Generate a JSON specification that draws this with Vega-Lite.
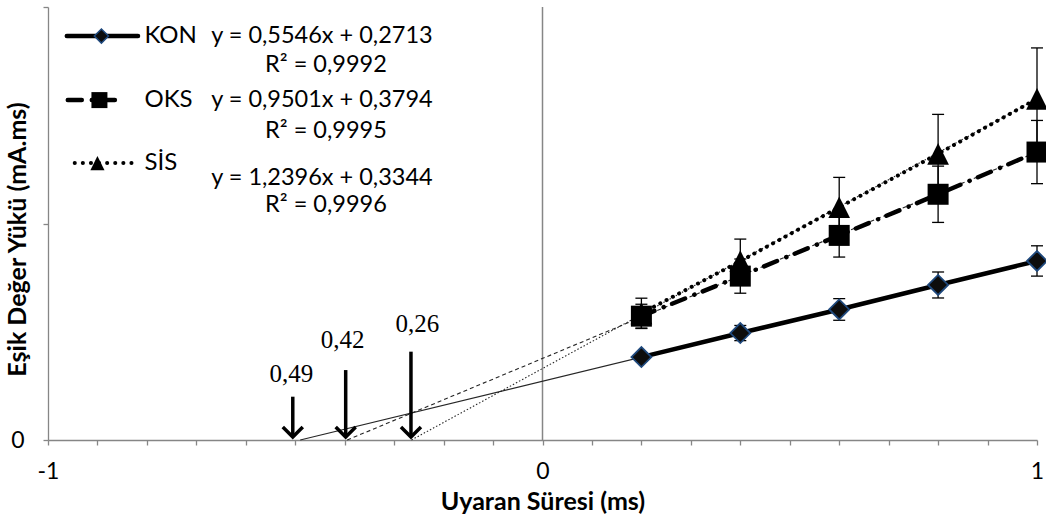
{
  "$schema": "https://vega.github.io/schema/vega-lite/v6.json",
  "width": 989,
  "height": 433,
  "autosize": "none",
  "padding": {"left": 48, "top": 7, "right": 9, "bottom": 79},
  "background": "white",
  "config": {"view": {"stroke": null}, "font": "Lato"},
  "datasets": {
    "pts": [
      {"series": "KON", "x": 0.2, "y": 0.383, "lo": 0.363, "hi": 0.403},
      {"series": "KON", "x": 0.4, "y": 0.494, "lo": 0.459, "hi": 0.529},
      {"series": "KON", "x": 0.6, "y": 0.603, "lo": 0.553, "hi": 0.653},
      {"series": "KON", "x": 0.8, "y": 0.716, "lo": 0.656, "hi": 0.776},
      {"series": "KON", "x": 1.0, "y": 0.827, "lo": 0.757, "hi": 0.897},
      {"series": "OKS", "x": 0.2, "y": 0.572, "lo": 0.517, "hi": 0.627},
      {"series": "OKS", "x": 0.4, "y": 0.757, "lo": 0.678, "hi": 0.836},
      {"series": "OKS", "x": 0.6, "y": 0.945, "lo": 0.845, "hi": 1.045},
      {"series": "OKS", "x": 0.8, "y": 1.135, "lo": 1.005, "hi": 1.265},
      {"series": "OKS", "x": 1.0, "y": 1.33, "lo": 1.184, "hi": 1.476},
      {"series": "SİS", "x": 0.2, "y": 0.585, "lo": 0.515, "hi": 0.655},
      {"series": "SİS", "x": 0.4, "y": 0.826, "lo": 0.724, "hi": 0.928},
      {"series": "SİS", "x": 0.6, "y": 1.075, "lo": 0.937, "hi": 1.213},
      {"series": "SİS", "x": 0.8, "y": 1.322, "lo": 1.14, "hi": 1.504},
      {"series": "SİS", "x": 1.0, "y": 1.576, "lo": 1.341, "hi": 1.811}
    ],
    "trend": [
      {"series": "KON", "x": -0.49, "y": 0},
      {"series": "KON", "x": 1.0, "y": 0.826},
      {"series": "OKS", "x": -0.395, "y": 0},
      {"series": "OKS", "x": 1.0, "y": 1.33},
      {"series": "SİS", "x": -0.265, "y": 0},
      {"series": "SİS", "x": 1.0, "y": 1.576}
    ],
    "arrows": [
      {"label": "0,49", "x": -0.505, "y": 0.2, "y2": 0.014, "lx": -0.508, "ly": 0.305},
      {"label": "0,42", "x": -0.398, "y": 0.323, "y2": 0.014, "lx": -0.404, "ly": 0.462},
      {"label": "0,26", "x": -0.266, "y": 0.408, "y2": 0.014, "lx": -0.253, "ly": 0.536}
    ],
    "legend": [
      {"series": "KON", "x": -0.962, "x2": -0.818, "xm": -0.892, "xt": -0.805, "y": 1.866},
      {"series": "OKS", "x": -0.96, "x2": -0.855, "xm": -0.896, "xt": -0.805, "y": 1.57},
      {"series": "SİS", "x": -0.946, "x2": -0.829, "xm": -0.9, "xt": -0.805, "y": 1.279}
    ],
    "eqs": [
      {"t": "y = 0,5546x + 0,2713", "x": -0.446, "y": 1.866},
      {"t": "R² = 0,9992", "x": -0.438, "y": 1.732},
      {"t": "y = 0,9501x + 0,3794", "x": -0.446, "y": 1.57},
      {"t": "R² = 0,9995", "x": -0.438, "y": 1.427},
      {"t": "y = 1,2396x + 0,3344", "x": -0.446, "y": 1.21},
      {"t": "R² = 0,9996", "x": -0.438, "y": 1.085}
    ]
  },
  "layer": [
    {
      "data": {"values": [{"x": 0}]},
      "mark": {"type": "rule", "color": "#868686", "strokeWidth": 1.5},
      "encoding": {
        "x": {"field": "x", "type": "quantitative",
          "scale": {"domain": [-1, 1], "nice": false, "zero": false},
          "axis": {
            "values": [-1, -0.9, -0.8, -0.7, -0.6, -0.5, -0.4, -0.3, -0.2, -0.1, 0, 0.1, 0.2, 0.3, 0.4, 0.5, 0.6, 0.7, 0.8, 0.9, 1],
            "labelExpr": "datum.value == -1 ? '-1' : datum.value == 0 ? '0' : datum.value == 1 ? '1' : ''",
            "title": "Uyaran Süresi (ms)", "grid": false,
            "domainColor": "#868686", "domainWidth": 1.3, "tickColor": "#868686", "tickWidth": 1.3, "tickSize": 5,
            "labelFont": "Lato", "labelFontSize": 23, "labelColor": "#000", "labelPadding": 33, "labelBaseline": "alphabetic",
            "labelFlush": false, "labelOverlap": false, "labelBound": false,
            "titleFont": "Lato", "titleFontWeight": "bold", "titleFontSize": 25, "titleColor": "#000", "titleY": 69, "titleBaseline": "alphabetic"
          }}
      }
    },
    {
      "data": {"name": "trend"},
      "transform": [{"filter": "datum.series == 'KON'"}],
      "mark": {"type": "line", "strokeWidth": 1.1, "color": "#262626"},
      "encoding": {
        "x": {"field": "x", "type": "quantitative"},
        "y": {"field": "y", "type": "quantitative",
          "scale": {"domain": [0, 2], "nice": false, "zero": false},
          "axis": {
            "values": [0, 1, 2],
            "labelExpr": "datum.value == 0 ? '0' : ''",
            "title": "Eşik Değer Yükü (mA.ms)", "grid": false,
            "domainColor": "#868686", "domainWidth": 1.3, "tickColor": "#868686", "tickWidth": 1.3, "tickSize": 5,
            "labelFont": "Lato", "labelFontSize": 23, "labelColor": "#000", "labelPadding": 19,
            "titleFont": "Lato", "titleFontWeight": "bold", "titleFontSize": 25, "titleColor": "#000",
            "titleX": -31, "titleY": 232, "titleBaseline": "middle", "titleAlign": "center"
          }}
      }
    },
    {
      "data": {"name": "trend"},
      "transform": [{"filter": "datum.series == 'OKS'"}],
      "mark": {"type": "line", "strokeWidth": 1.1, "color": "#262626", "strokeDash": [4, 3]},
      "encoding": {
        "x": {"field": "x", "type": "quantitative"},
        "y": {"field": "y", "type": "quantitative"}
      }
    },
    {
      "data": {"name": "trend"},
      "transform": [{"filter": "datum.series == 'SİS'"}],
      "mark": {"type": "line", "strokeWidth": 1.1, "color": "#262626", "strokeDash": [1.5, 2]},
      "encoding": {
        "x": {"field": "x", "type": "quantitative"},
        "y": {"field": "y", "type": "quantitative"}
      }
    },
    {
      "data": {"name": "pts"},
      "mark": {"type": "rule", "color": "#000", "strokeWidth": 1.3},
      "encoding": {
        "x": {"field": "x", "type": "quantitative"},
        "y": {"field": "lo", "type": "quantitative"},
        "y2": {"field": "hi"}
      }
    },
    {
      "data": {"name": "pts"},
      "mark": {"type": "point", "shape": "stroke", "size": 144, "filled": false, "stroke": "#000", "strokeWidth": 1.3, "opacity": 1},
      "encoding": {
        "x": {"field": "x", "type": "quantitative"},
        "y": {"field": "lo", "type": "quantitative"}
      }
    },
    {
      "data": {"name": "pts"},
      "mark": {"type": "point", "shape": "stroke", "size": 144, "filled": false, "stroke": "#000", "strokeWidth": 1.3, "opacity": 1},
      "encoding": {
        "x": {"field": "x", "type": "quantitative"},
        "y": {"field": "hi", "type": "quantitative"}
      }
    },
    {
      "data": {"name": "pts"},
      "transform": [{"filter": "datum.series == 'KON'"}],
      "mark": {"type": "line", "color": "#000", "strokeWidth": 4.5, "strokeCap": "round"},
      "encoding": {
        "x": {"field": "x", "type": "quantitative"},
        "y": {"field": "y", "type": "quantitative"}
      }
    },
    {
      "data": {"name": "pts"},
      "transform": [{"filter": "datum.series == 'OKS'"}],
      "mark": {"type": "line", "color": "#000", "strokeWidth": 4.5, "strokeCap": "round", "strokeDash": [14, 10, 0.1, 9]},
      "encoding": {
        "x": {"field": "x", "type": "quantitative"},
        "y": {"field": "y", "type": "quantitative"}
      }
    },
    {
      "data": {"name": "pts"},
      "transform": [{"filter": "datum.series == 'SİS'"}],
      "mark": {"type": "line", "color": "#000", "strokeWidth": 4, "strokeCap": "round", "strokeDash": [0.1, 7]},
      "encoding": {
        "x": {"field": "x", "type": "quantitative"},
        "y": {"field": "y", "type": "quantitative"}
      }
    },
    {
      "data": {"name": "pts"},
      "transform": [{"filter": "datum.series == 'KON'"}],
      "mark": {"type": "point", "shape": "diamond", "size": 400, "filled": true, "fill": "#0d0d0d", "stroke": "#1f497d", "strokeWidth": 1.8, "opacity": 1},
      "encoding": {
        "x": {"field": "x", "type": "quantitative"},
        "y": {"field": "y", "type": "quantitative"}
      }
    },
    {
      "data": {"name": "pts"},
      "transform": [{"filter": "datum.series == 'OKS'"}],
      "mark": {"type": "point", "shape": "square", "size": 441, "filled": true, "fill": "#000", "opacity": 1},
      "encoding": {
        "x": {"field": "x", "type": "quantitative"},
        "y": {"field": "y", "type": "quantitative"}
      }
    },
    {
      "data": {"name": "pts"},
      "transform": [{"filter": "datum.series == 'SİS'"}],
      "mark": {"type": "point", "shape": "M0,-1L-1,1L1,1Z", "size": 470, "filled": true, "fill": "#000", "opacity": 1},
      "encoding": {
        "x": {"field": "x", "type": "quantitative"},
        "y": {"field": "y", "type": "quantitative"}
      }
    },
    {
      "data": {"name": "arrows"},
      "mark": {"type": "rule", "color": "#000", "strokeWidth": 3.5},
      "encoding": {
        "x": {"field": "x", "type": "quantitative"},
        "y": {"field": "y", "type": "quantitative"},
        "y2": {"field": "y2"}
      }
    },
    {
      "data": {"name": "arrows"},
      "mark": {"type": "point", "shape": "M-1,-1L0,0L1,-1", "size": 400, "filled": false, "stroke": "#000", "strokeWidth": 3.5, "opacity": 1},
      "encoding": {
        "x": {"field": "x", "type": "quantitative"},
        "y": {"field": "y2", "type": "quantitative"}
      }
    },
    {
      "data": {"name": "arrows"},
      "mark": {"type": "text", "font": "Liberation Serif", "fontSize": 25, "color": "#000", "align": "center", "baseline": "middle"},
      "encoding": {
        "x": {"field": "lx", "type": "quantitative"},
        "y": {"field": "ly", "type": "quantitative"},
        "text": {"field": "label"}
      }
    },
    {
      "data": {"name": "legend"},
      "transform": [{"filter": "datum.series == 'KON'"}],
      "mark": {"type": "rule", "color": "#000", "strokeWidth": 4.5, "strokeCap": "round"},
      "encoding": {
        "x": {"field": "x", "type": "quantitative"},
        "x2": {"field": "x2"},
        "y": {"field": "y", "type": "quantitative"}
      }
    },
    {
      "data": {"name": "legend"},
      "transform": [{"filter": "datum.series == 'OKS'"}],
      "mark": {"type": "rule", "color": "#000", "strokeWidth": 4.5, "strokeCap": "round", "strokeDash": [14, 10, 0.1, 9]},
      "encoding": {
        "x": {"field": "x", "type": "quantitative"},
        "x2": {"field": "x2"},
        "y": {"field": "y", "type": "quantitative"}
      }
    },
    {
      "data": {"name": "legend"},
      "transform": [{"filter": "datum.series == 'SİS'"}],
      "mark": {"type": "rule", "color": "#000", "strokeWidth": 4, "strokeCap": "round", "strokeDash": [0.1, 8]},
      "encoding": {
        "x": {"field": "x", "type": "quantitative"},
        "x2": {"field": "x2"},
        "y": {"field": "y", "type": "quantitative"}
      }
    },
    {
      "data": {"name": "legend"},
      "transform": [{"filter": "datum.series == 'KON'"}],
      "mark": {"type": "point", "shape": "diamond", "size": 200, "filled": true, "fill": "#0d0d0d", "stroke": "#1f497d", "strokeWidth": 1.5, "opacity": 1},
      "encoding": {
        "x": {"field": "xm", "type": "quantitative"},
        "y": {"field": "y", "type": "quantitative"}
      }
    },
    {
      "data": {"name": "legend"},
      "transform": [{"filter": "datum.series == 'OKS'"}],
      "mark": {"type": "point", "shape": "square", "size": 256, "filled": true, "fill": "#000", "opacity": 1},
      "encoding": {
        "x": {"field": "xm", "type": "quantitative"},
        "y": {"field": "y", "type": "quantitative"}
      }
    },
    {
      "data": {"name": "legend"},
      "transform": [{"filter": "datum.series == 'SİS'"}],
      "mark": {"type": "point", "shape": "M0,-1L-1,1L1,1Z", "size": 200, "filled": true, "fill": "#000", "opacity": 1},
      "encoding": {
        "x": {"field": "xm", "type": "quantitative"},
        "y": {"field": "y", "type": "quantitative"}
      }
    },
    {
      "data": {"name": "legend"},
      "mark": {"type": "text", "font": "Lato", "fontSize": 24, "color": "#000", "align": "left", "baseline": "middle"},
      "encoding": {
        "x": {"field": "xt", "type": "quantitative"},
        "y": {"field": "y", "type": "quantitative"},
        "text": {"field": "series"}
      }
    },
    {
      "data": {"name": "eqs"},
      "mark": {"type": "text", "font": "Lato", "fontSize": 23.5, "color": "#000", "align": "center", "baseline": "middle"},
      "encoding": {
        "x": {"field": "x", "type": "quantitative"},
        "y": {"field": "y", "type": "quantitative"},
        "text": {"field": "t"}
      }
    }
  ]
}
